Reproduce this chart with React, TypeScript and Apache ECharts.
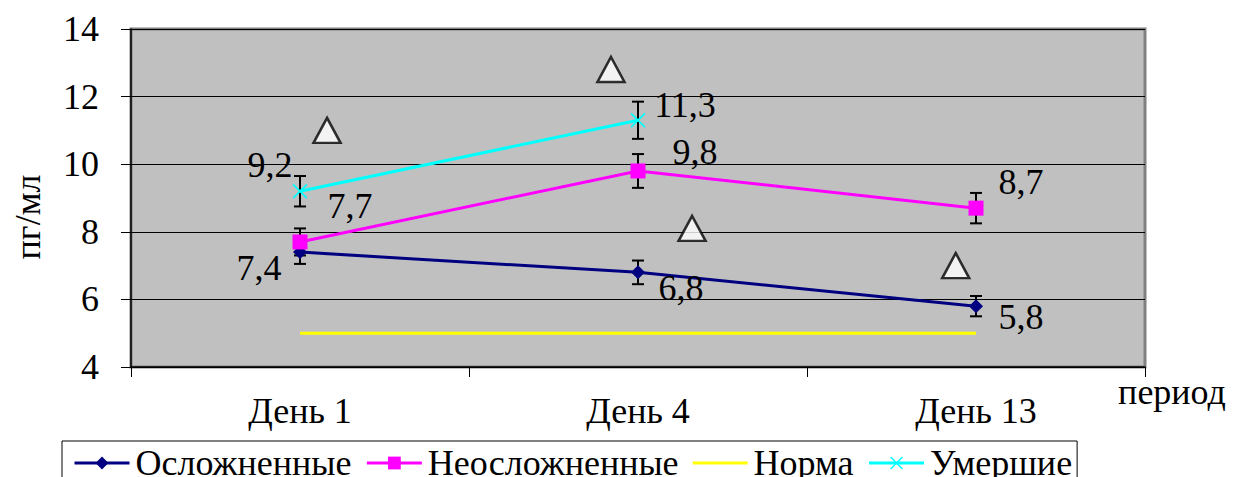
import React, { useEffect, useRef } from "react";
import * as echarts from "echarts";

const categories = ["День 1", "День 4", "День 13"];
const complicated = [7.4, 6.8, 5.8];
const uncomplicated = [7.7, 9.8, 8.7];
const norm = [5, 5, 5];
const deceased: (number | null)[] = [9.2, 11.3, null];

const complicatedErr = [0.35, 0.35, 0.3];
const uncomplicatedErr = [0.4, 0.5, 0.45];
const deceasedErr: (number | null)[] = [0.45, 0.55, null];

// significance marks (△): x in category units (0..3), y in пг/мл
const markX = [0.58, 1.42, 1.66, 2.44];
const markY = [11.0, 12.8, 8.1, 7.0];

const yMin = 4;
const yMax = 14;
const yInterval = 2;

// label offsets (pixels) for each point
const complOff = [[-41, 16], [43, 16], [45, 11]];
const uncomplOff = [[50, -36], [57, -19], [45, -26]];
const deadOff = [[-30, -26], [47, -15], [0, 0]];

const FONT = "Liberation Serif";

const fmt = (p: any) => String(p.value).replace(".", ",");

function errData(vals: (number | null)[], errs: (number | null)[]) {
  const out: number[][] = [];
  vals.forEach((v, i) => {
    const e = errs[i];
    if (v != null && e != null) out.push([i, v - e, v + e]);
  });
  return out;
}

const X_SYMBOL =
  "path://M0,0.8L0.8,0L10,9.2L9.2,10Z M9.2,0L10,0.8L0.8,10L0,9.2Z";
const NORM_ICON =
  "path://M0,0L0.01,0L0.01,0.01Z M0,6.5L55,6.5L55,9.5L0,9.5Z M0,16L0.01,16L0.01,15.99Z";

export default function App() {
  const ref = useRef<HTMLDivElement>(null);
  useEffect(() => {
    if (!ref.current) return;
    const chart = echarts.init(ref.current, undefined, { renderer: "svg" });

    const renderErr = (params: any, api: any) => {
      const i = api.value(0);
      const lo = api.coord([i, api.value(1)]);
      const hi = api.coord([i, api.value(2)]);
      const x = lo[0];
      const c = 6;
      const st = { stroke: "#000", lineWidth: 2 };
      return {
        type: "group",
        children: [
          { type: "line", shape: { x1: x, y1: lo[1], x2: x, y2: hi[1] }, style: st },
          { type: "line", shape: { x1: x - c, y1: lo[1], x2: x + c, y2: lo[1] }, style: st },
          { type: "line", shape: { x1: x - c, y1: hi[1], x2: x + c, y2: hi[1] }, style: st },
        ],
      };
    };

    const labelBase = {
      show: true,
      position: "inside",
      formatter: fmt,
      color: "#000",
      fontFamily: FONT,
      fontSize: 36,
      align: "center",
      verticalAlign: "middle",
    };

    const mk = (vals: (number | null)[], offs: number[][]) =>
      vals.map((v, i) => ({ value: v, label: { offset: offs[i] } }));

    chart.setOption({
      animation: false,
      textStyle: { fontFamily: FONT },
      grid: {
        left: 131,
        top: 29,
        right: 90,
        bottom: 110,
        show: true,
        backgroundColor: "#C0C0C0",
        borderColor: "#808080",
        borderWidth: 3,
      },
      legend: {
        left: 62,
        top: 441,
        padding: [4, 5, 10, 11],
        itemWidth: 55,
        itemHeight: 16,
        itemGap: 14,
        borderColor: "#000",
        borderWidth: 1,
        backgroundColor: "#fff",
        lineStyle: { width: 3 },
        textStyle: { fontFamily: FONT, fontSize: 36, color: "#000", padding: [0, 0, 0, 1] },
        data: [
          "Осложненные",
          "Неосложненные",
          { name: "Норма", icon: NORM_ICON },
          "Умершие",
        ],
      },
      xAxis: [
        {
          type: "category",
          data: categories,
          boundaryGap: true,
          axisLine: { lineStyle: { color: "#000", width: 1.5 } },
          axisTick: { show: true, length: 10, interval: 0, lineStyle: { color: "#000", width: 1 } },
          axisLabel: { fontFamily: FONT, fontSize: 36, color: "#000", margin: 26 },
          splitLine: { show: false },
        },
        {
          type: "value",
          min: 0,
          max: 3,
          show: false,
          splitLine: { show: false },
        },
      ],
      yAxis: {
        type: "value",
        min: yMin,
        max: yMax,
        interval: yInterval,
        axisLine: { show: true, lineStyle: { color: "#000", width: 1.5 } },
        axisTick: { show: true, length: 10, lineStyle: { color: "#000", width: 1 } },
        axisLabel: { fontFamily: FONT, fontSize: 36, color: "#000", margin: 32 },
        splitLine: { show: true, lineStyle: { color: "#000", width: 1 } },
      },
      graphic: [
        {
          type: "text",
          x: 28,
          y: 217,
          rotation: Math.PI / 2,
          style: {
            text: "пг/мл",
            fontFamily: FONT,
            fontSize: 36,
            fill: "#000",
            align: "center",
            verticalAlign: "middle",
          },
        },
        {
          type: "text",
          x: 1172,
          y: 392,
          style: {
            text: "период",
            fontFamily: FONT,
            fontSize: 36,
            fill: "#000",
            align: "center",
            verticalAlign: "middle",
          },
        },
      ],
      series: [
        {
          type: "custom",
          name: "errC",
          renderItem: renderErr,
          data: errData(complicated, complicatedErr),
          encode: { x: 0, y: [1, 2] },
          z: 1,
          silent: true,
        },
        {
          type: "custom",
          name: "errU",
          renderItem: renderErr,
          data: errData(uncomplicated, uncomplicatedErr),
          encode: { x: 0, y: [1, 2] },
          z: 1,
          silent: true,
        },
        {
          type: "custom",
          name: "errD",
          renderItem: renderErr,
          data: errData(deceased, deceasedErr),
          encode: { x: 0, y: [1, 2] },
          z: 1,
          silent: true,
        },
        {
          name: "Норма",
          type: "line",
          data: norm,
          symbol: "none",
          lineStyle: { color: "#FFFF00", width: 3 },
          itemStyle: { color: "#FFFF00" },
          z: 2,
        },
        {
          name: "Осложненные",
          type: "line",
          data: mk(complicated, complOff),
          symbol: "diamond",
          symbolSize: 14,
          lineStyle: { color: "#000080", width: 3 },
          itemStyle: { color: "#000080" },
          label: labelBase,
          z: 3,
        },
        {
          name: "Неосложненные",
          type: "line",
          data: mk(uncomplicated, uncomplOff),
          symbol: "rect",
          symbolSize: 15,
          lineStyle: { color: "#FF00FF", width: 3 },
          itemStyle: { color: "#FF00FF" },
          label: labelBase,
          z: 3,
        },
        {
          name: "Умершие",
          type: "line",
          data: mk(deceased, deadOff),
          symbol: X_SYMBOL,
          symbolSize: 15,
          lineStyle: { color: "#00FFFF", width: 3 },
          itemStyle: { color: "#00FFFF" },
          label: labelBase,
          z: 3,
        },
        {
          name: "marks",
          type: "scatter",
          xAxisIndex: 1,
          data: markX.map((x, i) => [x, markY[i]]),
          symbol: "triangle",
          symbolSize: [27, 25],
          itemStyle: { color: "#fff", borderColor: "#000", borderWidth: 2.5 },
          z: 4,
          silent: true,
        },
      ],
    });
    return () => chart.dispose();
  }, []);
  return (
    <div
      ref={ref}
      style={{ position: "absolute", left: 0, top: 0, width: 1235, height: 477 }}
    />
  );
}
